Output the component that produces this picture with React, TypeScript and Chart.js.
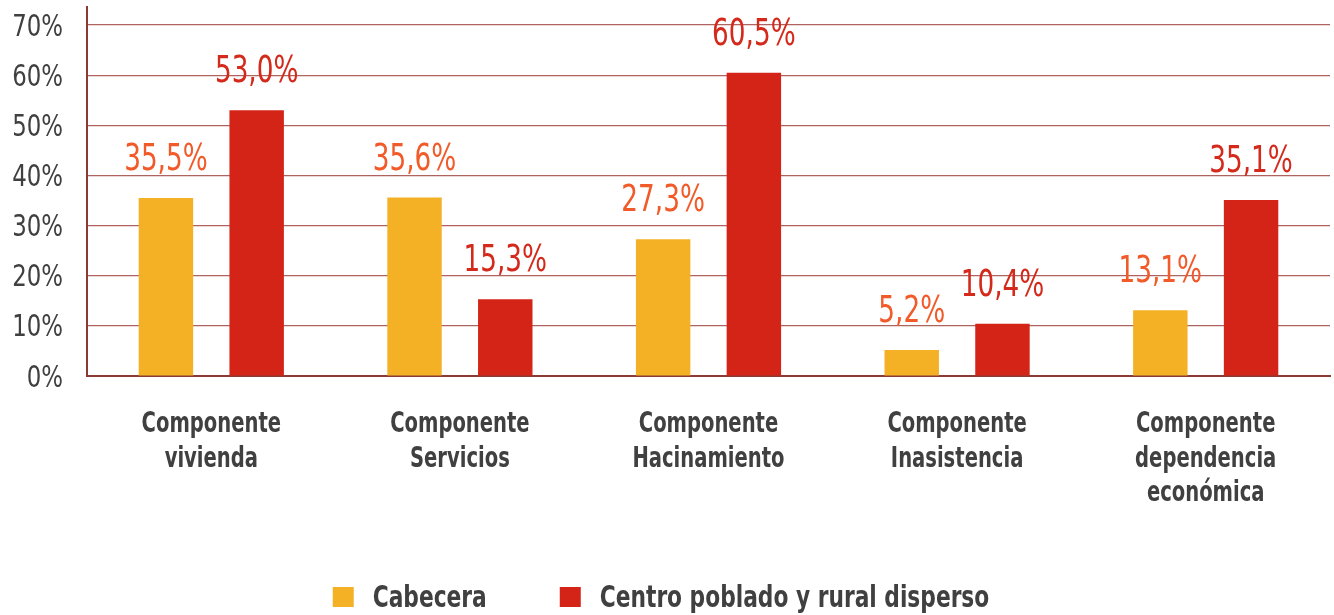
import { useEffect, useRef } from "react";
import { Chart, registerables } from "chart.js";

Chart.register(...registerables);

const categories: string[][] = [
  ["Componente", "vivienda"],
  ["Componente", "Servicios"],
  ["Componente", "Hacinamiento"],
  ["Componente", "Inasistencia"],
  ["Componente", "dependencia", "económica"],
];
const seriesNames = ["Cabecera", "Centro poblado y rural disperso"];
const cabecera = [35.5, 35.6, 27.3, 5.2, 13.1];
const centroPoblado = [53.0, 15.3, 60.5, 10.4, 35.1];
const yTicks = [0, 10, 20, 30, 40, 50, 60, 70];

const FONT = '"DejaVu Sans Condensed", "Liberation Sans Narrow", "Roboto", sans-serif';
const barColors = ["#f4b126", "#d42417"];
const labelColors = ["#f15a29", "#d42a1c"];
const textColor = "#404040";

const fmt = (v: number) => v.toFixed(1).replace(".", ",") + "%";

function drawText(
  ctx: CanvasRenderingContext2D,
  text: string,
  x: number,
  y: number,
  font: string,
  color: string,
  align: CanvasTextAlign,
  sx: number
) {
  ctx.save();
  ctx.font = font;
  ctx.fillStyle = color;
  ctx.textAlign = align;
  ctx.textBaseline = "alphabetic";
  ctx.translate(x, y);
  ctx.scale(sx, 1);
  ctx.fillText(text, 0, 0);
  ctx.restore();
}

const textPlugin = {
  id: "textPlugin",
  afterDraw(chart: any) {
    const ctx: CanvasRenderingContext2D = chart.ctx;
    const area = chart.chartArea;
    const xs = chart.scales.x;
    const ys = chart.scales.y;

    // y tick labels
    yTicks.forEach((v) => {
      const y = ys.getPixelForValue(v);
      drawText(ctx, v + "%", 63, y + 10.5, `31px ${FONT}`, textColor, "right", 0.82);
    });

    // category labels
    categories.forEach((lines, i) => {
      const x = xs.getPixelForTick(i);
      lines.forEach((line, li) => {
        drawText(ctx, line, x, area.bottom + 56 + li * 34.5, `bold 29px ${FONT}`, textColor, "center", 0.75);
      });
    });

    // value labels
    chart.data.datasets.forEach((ds: any, di: number) => {
      const meta = chart.getDatasetMeta(di);
      meta.data.forEach((bar: any, i: number) => {
        drawText(ctx, fmt(ds.data[i]), bar.x, bar.y - 28, `37px ${FONT}`, labelColors[di], "center", 0.79);
      });
    });

    // legend
    const legFont = `bold 31px ${FONT}`;
    const sx = 0.78;
    ctx.save();
    ctx.font = legFont;
    const widths = seriesNames.map((n) => ctx.measureText(n).width * sx);
    ctx.restore();
    const box = 21;
    const gapBox = 19;
    const gapItems = 73;
    const total = widths.reduce((a, w) => a + box + gapBox + w, 0) + gapItems * (seriesNames.length - 1);
    let x = chart.width / 2 - total / 2 - 6;
    const baseline = 607;
    seriesNames.forEach((n, i) => {
      ctx.save();
      ctx.fillStyle = barColors[i];
      ctx.fillRect(x, baseline - 20, box, 20);
      ctx.restore();
      x += box + gapBox;
      drawText(ctx, n, x, baseline, legFont, textColor, "left", sx);
      x += widths[i] + gapItems;
    });
  },
};

export default function App() {
  const ref = useRef<HTMLCanvasElement>(null);
  useEffect(() => {
    document.body.style.margin = "0";
    const chart = new Chart(ref.current!, {
      type: "bar",
      data: {
        labels: categories.map((c) => c.join(" ")),
        datasets: [
          {
            label: seriesNames[0],
            data: cabecera,
            backgroundColor: barColors[0],
            barPercentage: 0.6,
            categoryPercentage: 0.73,
          },
          {
            label: seriesNames[1],
            data: centroPoblado,
            backgroundColor: barColors[1],
            barPercentage: 0.6,
            categoryPercentage: 0.73,
          },
        ],
      },
      options: {
        responsive: false,
        animation: false,
        layout: { padding: { top: 7, right: 4, left: 0, bottom: 0 } },
        plugins: {
          tooltip: { enabled: false },
          legend: { display: false },
        },
        scales: {
          x: {
            grid: { display: false },
            border: { color: "#8b3a35", width: 2 },
            ticks: { display: false },
            afterFit(scale: any) {
              scale.height = 239;
              scale.paddingLeft = 0;
              scale.paddingRight = 0;
            },
          },
          y: {
            min: 0,
            max: 73.6,
            ticks: { display: false, stepSize: 10 },
            afterBuildTicks(scale: any) {
              scale.ticks = yTicks.map((v) => ({ value: v }));
            },
            grid: { color: "rgba(160,72,66,0.85)", lineWidth: 1.2, drawTicks: false },
            border: { color: "#8b3a35", width: 2 },
            afterFit(scale: any) {
              scale.width = 87;
              scale.paddingTop = 0;
              scale.paddingBottom = 0;
            },
          },
        },
      },
      plugins: [textPlugin],
    });
    return () => chart.destroy();
  }, []);
  return (
    <div style={{ position: "absolute", left: 0, top: 0, width: 1334, height: 615 }}>
      <canvas ref={ref} width={1334} height={615} style={{ display: "block" }} />
    </div>
  );
}
